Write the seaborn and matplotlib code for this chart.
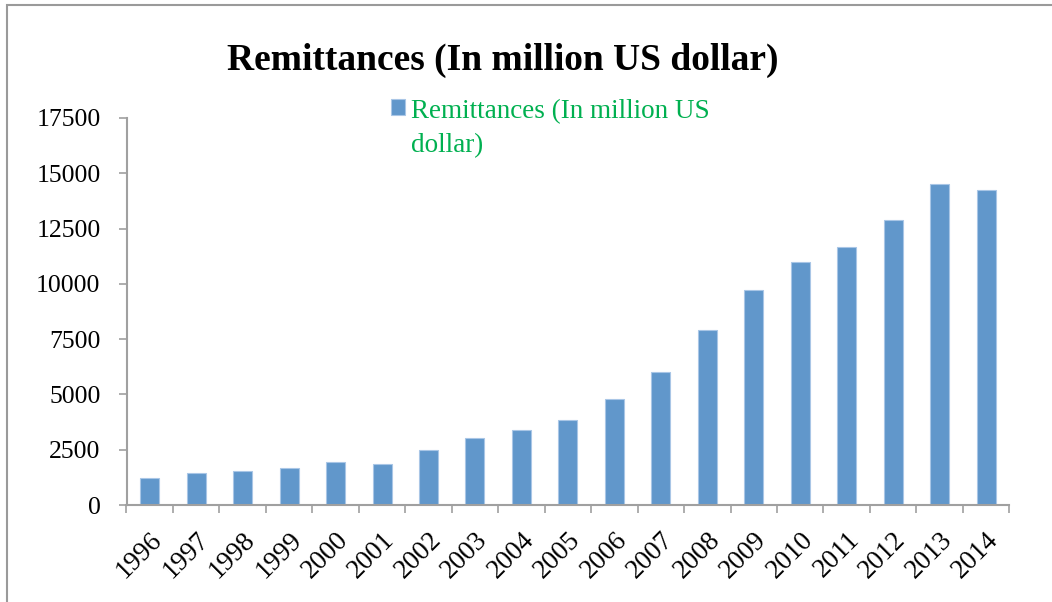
import matplotlib
matplotlib.use("Agg")
import matplotlib.pyplot as plt
import matplotlib.transforms as mtransforms
from matplotlib.patches import Rectangle
from matplotlib.ticker import FixedLocator
import seaborn as sns
import pandas as pd

# Remittances received per year, in million US dollars
years = ["1996", "1997", "1998", "1999", "2000", "2001", "2002", "2003", "2004", "2005",
         "2006", "2007", "2008", "2009", "2010", "2011", "2012", "2013", "2014"]
remittances = [1210, 1460, 1525, 1690, 1950, 1870, 2500, 3045, 3375, 3830,
               4780, 6000, 7900, 9710, 10975, 11650, 12890, 14500, 14260]
y_ticks = [0, 2500, 5000, 7500, 10000, 12500, 15000, 17500]

title = "Remittances (In million US dollar)"
series_label = "Remittances (In million US\ndollar)"

bar_color = "#6197CB"
axis_gray = "#A0A0A0"
legend_green = "#00B050"

W, H, DPI = 1052, 602, 100

sns.set_theme(style="white")
plt.rcParams["font.family"] = ["Liberation Serif", "DejaVu Serif"]

df = pd.DataFrame({"year": years, "value": remittances})

fig = plt.figure(figsize=(W / DPI, H / DPI), dpi=DPI)
ax = fig.add_axes([126.5 / W, 1 - 505 / H, (1009.3 - 126.5) / W, (505 - 118) / H])

sns.barplot(data=df, x="year", y="value", color=bar_color, width=0.41,
            edgecolor="#A9C6E6", linewidth=0.8, saturation=1, ax=ax, label=series_label)

ax.set_xlim(-0.5, len(years) - 0.5)
ax.set_ylim(0, 17500)
ax.set_yticks(y_ticks)
ax.set_yticklabels([str(v) for v in y_ticks], fontsize=18.5, color="black")
ax.set_xlabel("")
ax.set_ylabel("")

# category labels sit under bar centers; tick marks go on category boundaries
ax.set_xticks(range(len(years)))
ax.set_xticklabels(years, rotation=45, ha="right", rotation_mode="anchor", fontsize=19.5, color="black")
shift = mtransforms.ScaledTranslation(4 / 72, 0, fig.dpi_scale_trans)
for lbl in ax.get_xticklabels():
    lbl.set_transform(lbl.get_transform() + shift)
ax.xaxis.set_minor_locator(FixedLocator([i - 0.5 for i in range(len(years) + 1)]))
ax.tick_params(axis="x", which="major", length=0, pad=16)
ax.tick_params(axis="x", which="minor", bottom=True, length=8 * 0.72, width=1.2, color=axis_gray, direction="out")
ax.tick_params(axis="y", which="major", left=True, length=8 * 0.72, width=1.2, color=axis_gray,
               direction="out", pad=13)

for side in ("top", "right"):
    ax.spines[side].set_visible(False)
for side in ("left", "bottom"):
    ax.spines[side].set_color(axis_gray)
    ax.spines[side].set_linewidth(1.5)

leg = ax.legend(loc="upper left", bbox_to_anchor=(385 / W, 1 - 92 / H),
                bbox_transform=fig.transFigure, frameon=False, fontsize=19.5,
                handlelength=0.52, handleheight=0.52, handletextpad=0.3,
                borderaxespad=0, borderpad=0)
leg_text = leg.get_texts()[0]
leg_text.set_color(legend_green)
leg_text.set_linespacing(1.47)

# place the legend text block, then lift the swatch to the first line
fig.canvas.draw()
tb = leg_text.get_window_extent()
dx = 411 - tb.x0
dy = (H - 99) - tb.y1
leg.set_bbox_to_anchor((385 / W + dx / W, 1 - 92 / H + dy / H), transform=fig.transFigure)
fig.canvas.draw()
handle = leg.legend_handles[0]
hb = handle.get_window_extent()
lift = ((H - 99) - hb.y1) * 72 / DPI
nudge = (391 - hb.x0) * 72 / DPI
handle.set_y(handle.get_y() + lift)
handle.set_x(handle.get_x() + nudge)

fig.text(503 / W, 1 - 70 / H, title, ha="center", va="baseline",
         fontsize=27, fontweight="bold", color="black")

# outer chart frame (top and left edges visible)
fig.add_artist(Rectangle((7.3 / W, -0.1), 1.2, 1.1 - 4.5 / H, transform=fig.transFigure,
                         fill=False, edgecolor="#9A9A9A", linewidth=1.5, clip_on=False))

fig.savefig("out.png", dpi=DPI)
